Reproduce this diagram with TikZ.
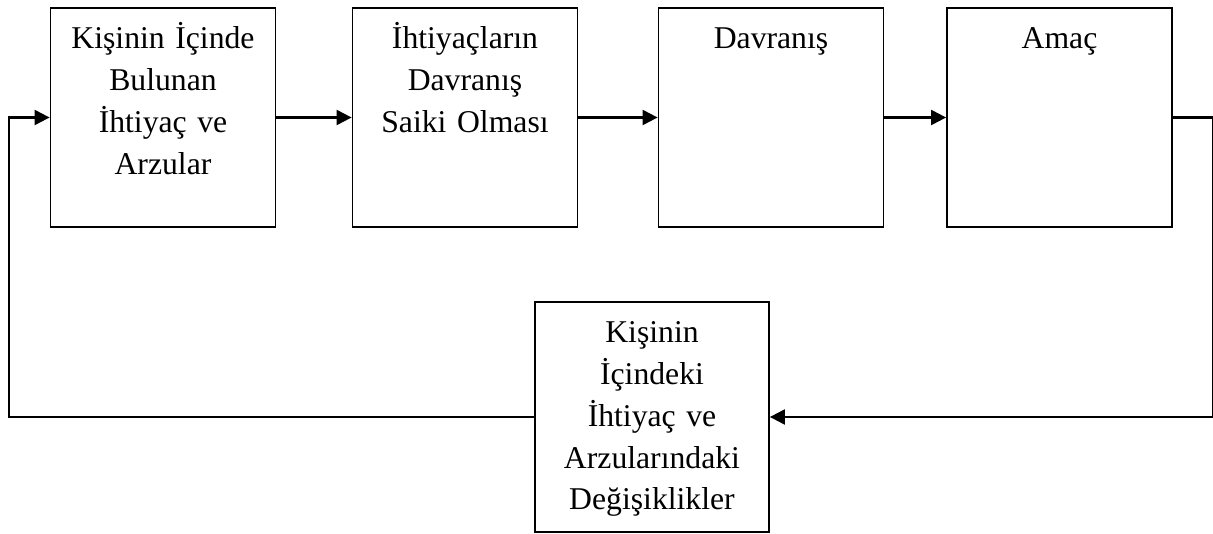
\documentclass[tikz,border=0pt]{standalone}
\usepackage{fontspec}
\setmainfont{Liberation Serif}
\usepackage{tikz}
\usetikzlibrary{arrows.meta}
\tikzset{
  stage/.style={rectangle, draw=black, line width=1.8pt, inner sep=0pt,
                minimum width=225pt, text width=219pt, align=center,
                text height=41pt, text depth=178pt,
                font=\fontsize{31.7pt}{41.7pt}\selectfont},
  flow/.style={-{Triangle[length=15pt,width=15pt]}, line width=2.2pt, draw=black}
}
\begin{document}
\begin{tikzpicture}[x=1pt,y=1pt]
\useasboundingbox (0,0) rectangle (1213,533);
\node[stage] (ihtiyac) at (163,415.5) {Kişinin İçinde\\Bulunan\\İhtiyaç ve\\Arzular};
\node[stage] (saik) at (465,415.5) {İhtiyaçların\\Davranış\\Saiki Olması};
\node[stage] (davranis) at (771,415.5) {Davranış};
\node[stage] (amac) at (1059.5,415.5) {Amaç};
\node[stage, minimum width=234pt, text width=228pt, text depth=189pt] (degisim) at (652,116)
  {Kişinin\\İçindeki\\İhtiyaç ve\\Arzularındaki\\Değişiklikler};
\draw[flow] (ihtiyac) -- (saik);
\draw[flow] (saik) -- (davranis);
\draw[flow] (davranis) -- (amac);
\draw[flow] (amac.east) -- ++(40,0) |- (degisim.east);
\draw[flow] (degisim.west) -| ([xshift=-41pt]ihtiyac.west) -- (ihtiyac.west);
\end{tikzpicture}
\end{document}
